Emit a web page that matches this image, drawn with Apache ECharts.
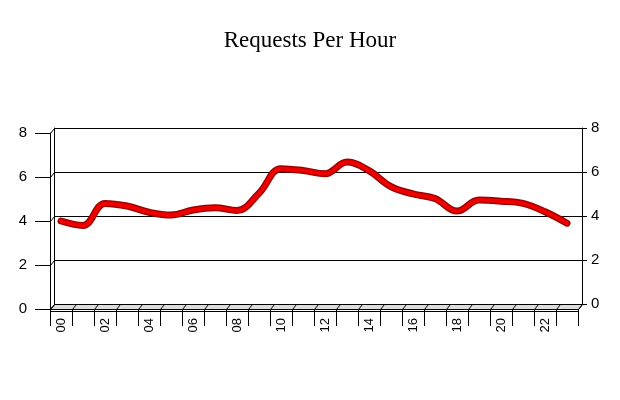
<!DOCTYPE html>
<html>
<head>
<meta charset="utf-8">
<script src="https://cdn.jsdelivr.net/npm/echarts@6/dist/echarts.min.js"></script>
<style>html,body{margin:0;padding:0;background:#fff;}#c{width:620px;height:400px;}</style>
</head>
<body>
<div id="c"></div>
<script>
var hours = ['00','01','02','03','04','05','06','07','08','09','10','11','12','13','14','15','16','17','18','19','20','21','22','23'];
var requests = [4.0, 3.8, 4.8, 4.68, 4.4, 4.27, 4.5, 4.6, 4.48, 5.26, 6.38, 6.3, 6.15, 6.68, 6.29, 5.56, 5.23, 5.02, 4.45, 4.95, 4.9, 4.8, 4.42, 3.9];
var yTicks = [0, 2, 4, 6, 8];

var W = 620, H = 400;
var G0 = {left: 50, right: 42, top: 133, bottom: 91};   // front plane
var G1 = {left: 54, right: 38, top: 128, bottom: 96};   // back plane
var font = 'Liberation Sans, Arial, sans-serif';

var chart = echarts.init(document.getElementById('c'));

var frontBottom = H - G0.bottom, backBottom = H - G1.bottom;
var dx = G1.left - G0.left, dy = frontBottom - backBottom;
var catW = (W - G0.left - G0.right) / hours.length;
var unit = (H - G0.top - G0.bottom) / (yTicks[yTicks.length - 1] - yTicks[0]);

var graphics = [];
// floor slab
graphics.push({
  type: 'polygon', z: 5,
  shape: {points: [[G0.left + 0.5, frontBottom + 0.5], [W - G0.right + 0.5, frontBottom + 0.5], [W - G1.right + 0.5, backBottom + 0.5], [G1.left + 0.5, backBottom + 0.5]]},
  style: {fill: '#dcdcdc', stroke: '#000', lineWidth: 1}
});
graphics.push({
  type: 'line', z: 5,
  shape: {x1: G0.left, y1: frontBottom + 2.5, x2: W - G0.right + 0.5, y2: frontBottom + 2.5},
  style: {stroke: '#000', lineWidth: 1}
});
for (var k = 0; k <= hours.length; k++) {
  var x0 = Math.round(G0.left + k * catW) + 0.5;
  graphics.push({
    type: 'line', z: 6,
    shape: {x1: x0, y1: frontBottom + 0.5, x2: x0 + dx, y2: backBottom + 0.5},
    style: {stroke: '#000', lineWidth: 1}
  });
}
// left wall connectors
for (var t = 0; t < yTicks.length; t++) {
  var y0 = Math.round(frontBottom - yTicks[t] * unit) + 0.5;
  graphics.push({
    type: 'line', z: 6,
    shape: {x1: G0.left + 0.5, y1: y0, x2: G0.left + dx + 0.5, y2: y0 - dy},
    style: {stroke: '#000', lineWidth: 1}
  });
}

chart.setOption({
  animation: false,
  backgroundColor: '#fff',
  title: {
    text: 'Requests Per Hour',
    left: 'center',
    top: 24,
    textStyle: {fontFamily: 'Liberation Serif, Times New Roman, serif', fontSize: 23, fontWeight: 'normal', color: '#000'}
  },
  grid: [
    {left: G0.left, right: G0.right, top: G0.top, bottom: G0.bottom},
    {left: G1.left, right: G1.right, top: G1.top, bottom: G1.bottom}
  ],
  xAxis: [
    {
      type: 'category', gridIndex: 0, data: hours, boundaryGap: true,
      axisLine: {show: true, lineStyle: {color: '#000', width: 1}},
      axisTick: {show: true, interval: 0, length: 17, lineStyle: {color: '#000'}},
      axisLabel: {interval: 1, rotate: 90, margin: 9, fontSize: 13, fontFamily: font, color: '#000'},
      splitLine: {show: false}
    },
    {
      type: 'category', gridIndex: 1, data: hours, boundaryGap: true,
      axisLine: {show: false}, axisTick: {show: false}, axisLabel: {show: false}, splitLine: {show: false}
    }
  ],
  yAxis: [
    {
      type: 'value', gridIndex: 0, position: 'left', min: 0, max: 8, interval: 2,
      axisLine: {show: true, lineStyle: {color: '#000'}},
      axisTick: {show: true, length: 15, lineStyle: {color: '#000'}},
      axisLabel: {margin: 23, fontSize: 15, fontFamily: font, color: '#000'},
      splitLine: {show: false}
    },
    {
      type: 'value', gridIndex: 1, position: 'right', min: 0, max: 8, interval: 2,
      axisLine: {show: true, lineStyle: {color: '#000'}},
      axisTick: {show: true, length: 5, lineStyle: {color: '#000'}},
      axisLabel: {margin: 9, fontSize: 15, fontFamily: font, color: '#000'},
      splitLine: {show: true, lineStyle: {color: '#000', width: 1}}
    },
    {
      type: 'value', gridIndex: 1, position: 'left', min: 0, max: 8, interval: 2,
      axisLine: {show: true, lineStyle: {color: '#000'}},
      axisTick: {show: false}, axisLabel: {show: false}, splitLine: {show: false}
    }
  ],
  series: [
    {
      type: 'line', xAxisIndex: 0, yAxisIndex: 0, data: requests, smooth: 0.4,
      showSymbol: false, z: 10,
      lineStyle: {color: '#a00000', width: 7, cap: 'round', join: 'round'}
    },
    {
      type: 'line', xAxisIndex: 0, yAxisIndex: 0, data: requests, smooth: 0.4,
      showSymbol: false, z: 11,
      lineStyle: {color: '#ee0000', width: 4, cap: 'round', join: 'round'}
    }
  ],
  graphic: graphics
});
</script>
</body>
</html>
